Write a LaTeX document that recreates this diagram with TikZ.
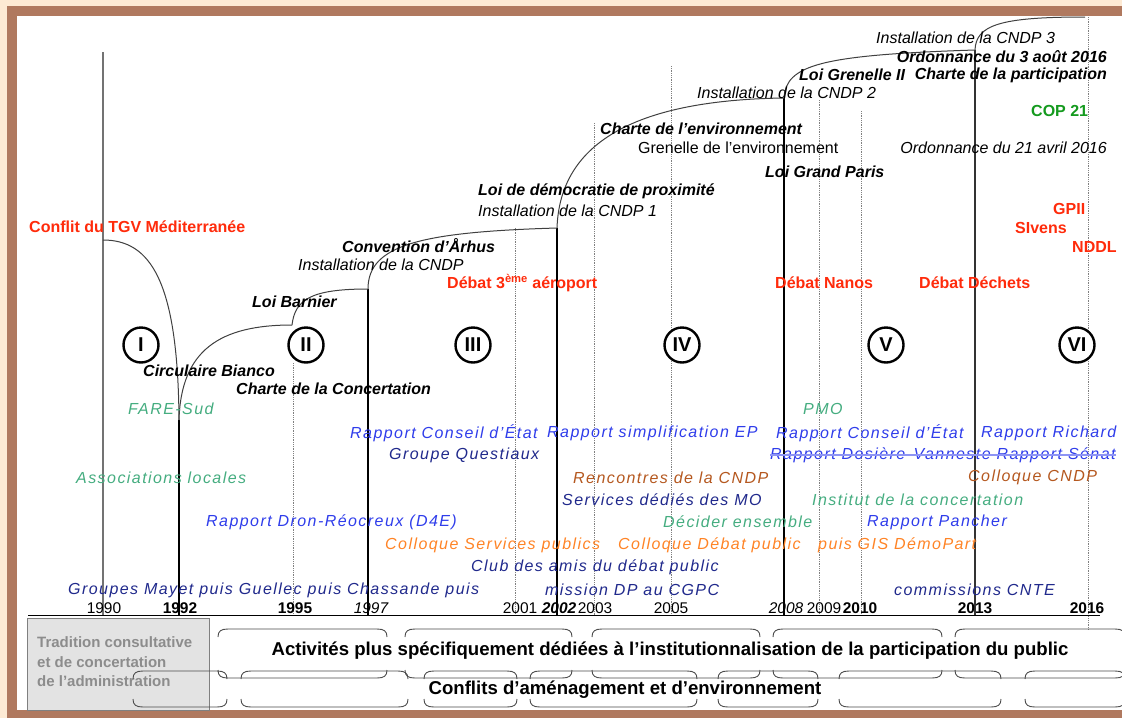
\documentclass[tikz,border=0pt]{standalone}
\usepackage{fontspec}
\setmainfont{Liberation Sans}
\newfontfamily\spacedfont{Liberation Sans}[LetterSpace=9]
\usepackage{xcolor}
\usepackage{tikz}

\definecolor{framepeach}{HTML}{FDEAD4}
\definecolor{framebrown}{HTML}{B0795F}
\definecolor{conflictred}{HTML}{FF2B0B}
\definecolor{copgreen}{HTML}{149A1E}
\definecolor{assocgreen}{HTML}{45AD80}
\definecolor{reportblue}{HTML}{2F3DEB}
\definecolor{groupnavy}{HTML}{20298C}
\definecolor{meetbrown}{HTML}{B5581F}
\definecolor{collorange}{HTML}{FF8426}
\definecolor{boxgray}{HTML}{E3E3E3}
\definecolor{boxtext}{HTML}{8C8C8C}

\begin{document}
\begin{tikzpicture}[x=1pt, y=-1pt,
    every node/.style={inner sep=0pt, anchor=west},
    law/.style={font=\fontsize{16}{18}\selectfont\bfseries\itshape},
    inst/.style={font=\fontsize{16}{18}\selectfont\itshape},
    normaltxt/.style={font=\fontsize{16}{18}\selectfont},
    conflict/.style={text=conflictred, font=\fontsize{16}{18}\selectfont\bfseries},
    cop/.style={text=copgreen, font=\fontsize{16}{18}\selectfont\bfseries},
    assoc/.style={text=assocgreen, font=\spacedfont\itshape\fontsize{16}{18}\selectfont},
    report/.style={text=reportblue, font=\spacedfont\itshape\fontsize{16}{18}\selectfont},
    group/.style={text=groupnavy, font=\spacedfont\itshape\fontsize{16}{18}\selectfont},
    meet/.style={text=meetbrown, font=\spacedfont\itshape\fontsize{16}{18}\selectfont},
    colloq/.style={text=collorange, font=\spacedfont\itshape\fontsize{16}{18}\selectfont},
    year/.style={anchor=base, font=\fontsize{15.5}{17}\selectfont},
    yearbf/.style={anchor=base, font=\fontsize{15.5}{17}\selectfont\bfseries},
    yearit/.style={anchor=base, font=\fontsize{15.5}{17}\selectfont\itshape},
    yearbfit/.style={anchor=base, font=\fontsize{15.5}{17}\selectfont\bfseries\itshape},
    period/.style={anchor=center, draw, circle, fill=white, line width=2.4pt, minimum size=35pt, font=\fontsize{20}{20}\selectfont\bfseries},
    band/.style={anchor=center, font=\fontsize{18.6}{20}\selectfont\bfseries},
    thickyear/.style={black, line width=2.4pt},
    dotyear/.style={gray, densely dotted, line width=0.8pt},
    linkarc/.style={black!75, line width=1pt},
    brk/.style={black!70, line width=0.9pt}]

    % Frame
    \useasboundingbox (0,0) rectangle (1122,718);
    \fill[framepeach] (0,0) rectangle (1122,718);
    \fill[framebrown] (7,6) rectangle (1122,718);
    \fill[white] (17,16) rectangle (1122,710);

    % Year lines
    \draw[gray!90!black, line width=1.3pt] (103,52) -- (103,615);
    \draw[thickyear] (179,420) -- (179,615);
    \draw[dotyear] (293,363) -- (293,615);
    \draw[thickyear] (368,289) -- (368,615);
    \draw[dotyear] (515,228) -- (515,615);
    \draw[thickyear] (557,228) -- (557,615);
    \draw[dotyear] (594,123) -- (594,615);
    \draw[dotyear] (671,66) -- (671,615);
    \draw[thickyear] (784,98) -- (784,615);
    \draw[dotyear] (819,100) -- (819,615);
    \draw[dotyear] (861,111) -- (861,615);
    \draw[black!80, line width=1.2pt] (975,50) -- (975,615);
    \draw[dotyear] (1088,17) -- (1088,630);

    % Steps of the arcs
    \coordinate (tgv) at (103,240);
    \coordinate (y92) at (179,420);
    \coordinate (k95) at (292,325);
    \coordinate (y97) at (368,289);
    \coordinate (y02) at (557,228);
    \coordinate (y08) at (784,98);
    \coordinate (y13) at (975,50);
    \coordinate (e16) at (1085,17);
    \draw[linkarc] (tgv) .. controls (150,240) and (178,280) .. (y92);
    \draw[linkarc] (y92) .. controls (181,350) and (220,325) .. (k95);
    \draw[linkarc] (k95) .. controls (295,300) and (310,289) .. (y97);
    \draw[linkarc] (y97) .. controls (368,245) and (420,232) .. (y02);
    \draw[linkarc] (y02) .. controls (560,140) and (640,100) .. (y08);
    \draw[linkarc] (y08) .. controls (786,65) and (820,55) .. (y13);
    \draw[linkarc] (y13) .. controls (976,25) and (1000,17) .. (e16);

    % Axis and years
    \draw[black, line width=1pt] (28,615) -- (1100,615);
    \node[year] (n1990) at (104,613) {1990};
    \node[yearbf] (n1992) at (180,613) {1992};
    \node[yearbf] (n1995) at (295,613) {1995};
    \node[yearit] (n1997) at (371,613) {1997};
    \node[year] (n2001) at (520,613) {2001};
    \node[yearbfit] (n2002) at (559,613) {2002};
    \node[year] (n2003) at (595,613) {2003};
    \node[year] (n2005) at (671,613) {2005};
    \node[yearit] (n2008) at (786,613) {2008};
    \node[year] (n2009) at (824,613) {2009};
    \node[yearbf] (n2010) at (860,613) {2010};
    \node[yearbf] (n2013) at (975,613) {2013};
    \node[yearbf] (n2016) at (1087,613) {2016};

    % Periods
    \node[period] (p1) at (141,345) {I};
    \node[period] (p2) at (306,345) {II};
    \node[period] (p3) at (473,345) {III};
    \node[period] (p4) at (682,345) {IV};
    \node[period] (p5) at (886,345) {V};
    \node[period] (p6) at (1077,345) {VI};

    % Laws and institutions
    \node[law] (arhus) at (342,246) {Convention d’Århus};
    \node[inst] (cndp0) at (298,265) {Installation de la CNDP};
    \node[law] (barnier) at (252,302) {Loi Barnier};
    \node[law] (bianco) at (143,371) {Circulaire Bianco};
    \node[law] (charteconc) at (236,389) {Charte de la Concertation};
    \node[law] (proxi) at (478,191) {Loi de démocratie de proximité};
    \node[inst] (cndp1) at (478,211) {Installation de la CNDP 1};
    \node[law] (charteenv) at (600,129) {Charte de l’environnement};
    \node[normaltxt] (grenelle) at (638,148) {Grenelle de l’environnement};
    \node[inst] (cndp2) at (697,93) {Installation de la CNDP 2};
    \node[law] (grandparis) at (765,172) {Loi Grand Paris};
    \node[law] (grenelle2) at (799,75) {Loi Grenelle II};
    \node[law, anchor=east] (chartepart) at (1107,75) {Charte de la participation};
    \node[law, anchor=east] (ord3) at (1107,57) {Ordonnance du 3 août 2016};
    \node[inst] (cndp3) at (876,38) {Installation de la CNDP 3};
    \node[inst, anchor=east] (ord21) at (1107,148) {Ordonnance du 21 avril 2016};
    \node[cop] (cop21) at (1031,111) {COP 21};

    % Conflicts and public debates
    \node[conflict] (tgvmed) at (29,227) {Conflit du TGV Méditerranée};
    \node[conflict] (aeroport) at (447,283) {Débat 3\textsuperscript{ème} aéroport};
    \node[conflict] (nanos) at (775,283) {Débat Nanos};
    \node[conflict] (dechets) at (919,283) {Débat Déchets};
    \node[conflict] (gpii) at (1053,209) {GPII};
    \node[conflict] (sivens) at (1015,228) {SIvens};
    \node[conflict] (nddl) at (1072,247) {NDDL};

    % Associations
    \node[assoc] (fare) at (128,409) {FARE-Sud};
    \node[assoc] (assoloc) at (76,478) {Associations locales};
    \node[assoc] (pmo) at (803,409) {PMO};
    \node[assoc] (decider) at (663,522) {Décider ensemble};
    \node[assoc] (institut) at (812,500) {Institut de la concertation};

    % Reports
    \node[report] (rce1) at (350,433) {Rapport Conseil d’État};
    \node[report] (rsimpl) at (547,433) {Rapport simplification EP};
    \node[report] (rce2) at (776,433) {Rapport Conseil d’État};
    \node[report] (richard) at (981,433) {Rapport Richard};
    \node[report] (dosiere) at (770,455) {Rapport Dosière-Vanneste Rapport Sénat};
    \draw[reportblue!55, line width=1.2pt] (dosiere.west) -- (dosiere.east);
    \node[report] (dron) at (206,522) {Rapport Dron-Réocreux (D4E)};
    \node[report] (pancher) at (867,522) {Rapport Pancher};

    % Groups and missions
    \node[group] (questiaux) at (389,455) {Groupe Questiaux};
    \node[group] (services) at (562,500) {Services dédiés des MO};
    \node[group] (club) at (471,567) {Club des amis du débat public};
    \node[group] (mayet) at (68,590) {Groupes Mayet puis Guellec puis Chassande puis};
    \node[group] (mission) at (545,590) {mission DP au CGPC};
    \node[group] (cnte) at (894,590) {commissions CNTE};

    % Meetings
    \node[meet] (rencontres) at (573,478) {Rencontres de la CNDP};
    \node[meet] (collcndp) at (968,477) {Colloque CNDP};
    \node[colloq] (collserv) at (385,545) {Colloque Services publics};
    \node[colloq] (colldebat) at (618,545) {Colloque Débat public};
    \node[colloq] (gis) at (818,545) {puis GIS DémoPart};

    % Bottom bands
    \draw[gray, fill=boxgray] (27,618) rectangle (209,710);
    \node[text=boxtext, align=left, font=\fontsize{15}{19.5}\selectfont\bfseries] (tradition) at (37,662) {Tradition consultative\\et de concertation\\de l’administration};
    \foreach \a/\b in {218/387, 405/572, 592/760, 773/942, 955/1125} {
        \draw[brk] (\a,637) .. controls (\a,631) and (\a+3,629) .. (\a+10,629) -- (\b-10,629) .. controls (\b-3,629) and (\b,631) .. (\b,637);
        \draw[brk] (\a,670) .. controls (\a,676) and (\a+3,678) .. (\a+10,678) -- (\b-10,678) .. controls (\b-3,678) and (\b,676) .. (\b,670);
    }
    \foreach \a/\b in {133/227, 241/408, 424/517, 530/697, 718/818, 839/1001, 1025/1125} {
        \draw[brk] (\a,679) .. controls (\a,673) and (\a+3,671) .. (\a+10,671) -- (\b-10,671) .. controls (\b-3,671) and (\b,673) .. (\b,679);
        \draw[brk] (\a,699) .. controls (\a,705) and (\a+3,707) .. (\a+10,707) -- (\b-10,707) .. controls (\b-3,707) and (\b,705) .. (\b,699);
    }
    \node[band] (activites) at (670,651) {Activités plus spécifiquement dédiées à l’institutionnalisation de la participation du public};
    \node[band] (conflits) at (625,690) {Conflits d’aménagement et d’environnement};

\end{tikzpicture}
\end{document}
